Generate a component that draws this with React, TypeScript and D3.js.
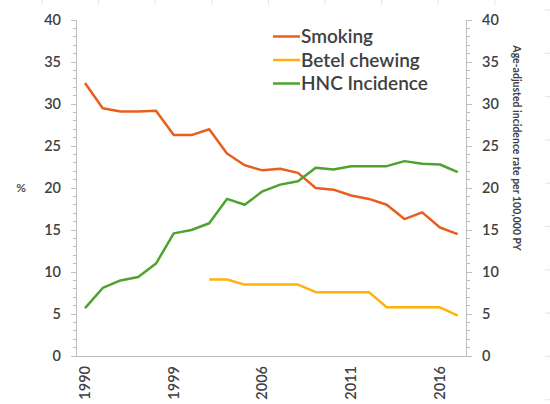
import React, { useEffect, useRef } from 'react';
import * as d3 from 'd3';

// categories along the x axis (only every 5th one is labelled)
const years = [
  '1990', '1992', '1994', '1996', '1997', '1999', '2001', '2002', '2003', '2005', '2006',
  '2007', '2008', '2009', '2010', '2011', '2012', '2013', '2014', '2015', '2016', '2017'
];

const smoking = [
  32.5, 29.5, 29.1, 29.1, 29.2, 26.3, 26.3, 27.0, 24.1, 22.7, 22.1,
  22.3, 21.8, 20.0, 19.8, 19.1, 18.7, 18.0, 16.3, 17.1, 15.3, 14.5
];

const betel: (number | null)[] = [
  null, null, null, null, null, null, null, 9.1, 9.1, 8.5, 8.5,
  8.5, 8.5, 7.6, 7.6, 7.6, 7.6, 5.8, 5.8, 5.8, 5.8, 4.8
];

const hnc = [
  5.7, 8.1, 9.0, 9.4, 11.0, 14.6, 15.0, 15.8, 18.7, 18.0, 19.6,
  20.4, 20.8, 22.4, 22.2, 22.6, 22.6, 22.6, 23.2, 22.9, 22.8, 21.9
];

const yTicks = [0, 5, 10, 15, 20, 25, 30, 35, 40];
const xLabelEvery = 5;

const seriesList = [
  { name: 'Smoking', values: smoking, color: '#E85E1C' },
  { name: 'Betel chewing', values: betel, color: '#FFB20A' },
  { name: 'HNC Incidence', values: hnc, color: '#4EA22F' }
];

const App: React.FC = () => {
  const svgRef = useRef<SVGSVGElement>(null);

  useEffect(() => {
    if (!svgRef.current) return;
    const width = 550;
    const height = 404;
    const svg = d3.select(svgRef.current);
    svg.selectAll('*').remove();

    const font = 'Lato, "Open Sans", sans-serif';
    const textColor = '#404040';
    const axisColor = '#BFBFBF';

    const left = 76;
    const right = 466.5;
    const top = 20;
    const bottom = 356;

    const x = d3.scalePoint<string>()
      .domain(years)
      .range([85, 457.7]);

    const y = d3.scaleLinear().domain([0, 40]).range([bottom, top]);

    // faint background marks at the image edges
    const edge = svg.append('g').attr('stroke', '#E4E4E4').attr('stroke-width', 1);
    d3.range(42, width, 56.6).forEach(px => {
      edge.append('line').attr('x1', px).attr('x2', px).attr('y1', 0).attr('y2', 5);
    });
    d3.range(10, height, 43.3).forEach(py => {
      edge.append('line').attr('x1', 545).attr('x2', 550).attr('y1', py).attr('y2', py);
    });

    // axes lines
    const axes = svg.append('g').attr('stroke', axisColor).attr('stroke-width', 1).attr('shape-rendering', 'crispEdges');
    axes.append('line').attr('x1', left).attr('x2', left).attr('y1', top).attr('y2', bottom);
    axes.append('line').attr('x1', right).attr('x2', right).attr('y1', top).attr('y2', bottom);
    axes.append('line').attr('x1', left).attr('x2', right).attr('y1', bottom).attr('y2', bottom);

    // minor and major ticks, both axes
    d3.range(0, 41, 1).forEach(v => {
      const major = v % 5 === 0;
      const len = major ? 5 : 3.5;
      axes.append('line').attr('x1', left - len).attr('x2', left).attr('y1', y(v)).attr('y2', y(v));
      axes.append('line').attr('x1', right).attr('x2', right + len).attr('y1', y(v)).attr('y2', y(v));
    });

    // left tick labels
    svg.append('g')
      .selectAll('text')
      .data(yTicks)
      .enter()
      .append('text')
      .attr('x', 61)
      .attr('y', d => y(d))
      .attr('dy', '0.36em')
      .attr('text-anchor', 'end')
      .text(d => d)
      .style('font-family', font)
      .style('font-size', '14.5px')
      .style('font-weight', '600')
      .style('fill', textColor);

    // right tick labels
    svg.append('g')
      .selectAll('text')
      .data(yTicks)
      .enter()
      .append('text')
      .attr('x', 482)
      .attr('y', d => y(d))
      .attr('dy', '0.36em')
      .attr('text-anchor', 'start')
      .text(d => d)
      .style('font-family', font)
      .style('font-size', '14.5px')
      .style('font-weight', '600')
      .style('fill', textColor);

    // x labels (rotated)
    svg.append('g')
      .selectAll('text')
      .data(years.filter((d, i) => i % xLabelEvery === 0))
      .enter()
      .append('text')
      .attr('transform', d => `translate(${x(d)! + 5}, 366) rotate(-90)`)
      .attr('text-anchor', 'end')
      .text(d => d)
      .style('font-family', font)
      .style('font-size', '14.5px')
      .style('font-weight', '600')
      .style('fill', textColor);

    // axis titles
    svg.append('text')
      .attr('x', 21)
      .attr('y', 188)
      .attr('dy', '0.35em')
      .attr('text-anchor', 'middle')
      .text('%')
      .style('font-family', font)
      .style('font-size', '12px')
      .style('font-weight', '600')
      .style('fill', textColor);

    svg.append('text')
      .attr('transform', 'translate(513, 148) rotate(90)')
      .attr('text-anchor', 'middle')
      .text('Age-adjusted incidence rate per 100,000 PY')
      .style('font-family', font)
      .style('font-size', '10.5px')
      .style('font-weight', '700')
      .style('fill', textColor);

    // lines
    const line = d3.line<number | null>()
      .defined(d => d !== null)
      .x((d, i) => x(years[i])!)
      .y(d => y(d as number));

    svg.append('g')
      .selectAll('path')
      .data(seriesList)
      .enter()
      .append('path')
      .attr('d', d => line(d.values as (number | null)[]))
      .attr('fill', 'none')
      .attr('stroke', d => d.color)
      .attr('stroke-width', 2.5)
      .attr('stroke-linejoin', 'round');

    // legend
    const legend = svg.append('g')
      .selectAll('g')
      .data(seriesList)
      .enter()
      .append('g')
      .attr('transform', (d, i) => `translate(273, ${36.5 + i * 23.5})`);

    legend.append('line')
      .attr('x1', 0)
      .attr('x2', 27)
      .attr('stroke', d => d.color)
      .attr('stroke-width', 2.5);

    legend.append('text')
      .attr('x', 28)
      .attr('dy', '0.36em')
      .text(d => d.name)
      .style('font-family', font)
      .style('font-size', '19px')
      .style('font-weight', '600')
      .style('fill', textColor);
  }, []);

  return (
    <div style={{ position: 'fixed', left: 0, top: 0, width: 550, height: 404, background: '#fff' }}>
      <svg ref={svgRef} width={550} height={404} style={{ display: 'block' }} />
    </div>
  );
};

export default App;
